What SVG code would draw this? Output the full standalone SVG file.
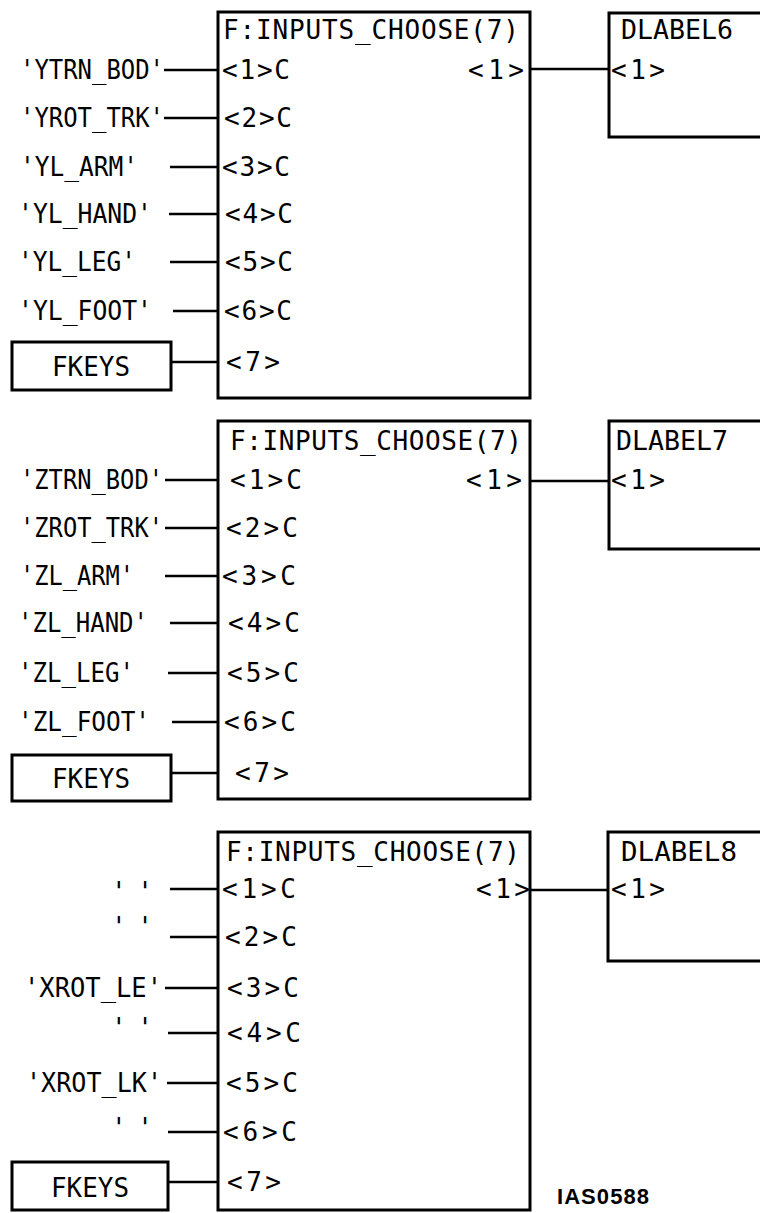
<svg xmlns="http://www.w3.org/2000/svg" width="760" height="1213" viewBox="0 0 760 1213">
<style>
.box{fill:none;stroke:#000;stroke-width:3}
.ln{stroke:#000;stroke-width:2.5;fill:none}
text{font-family:"DejaVu Sans Mono","Liberation Mono",monospace;font-size:26px;fill:#000}
.sq{lengthAdjust:spacingAndGlyphs}
.tag{font-family:"Liberation Sans","DejaVu Sans",sans-serif;font-weight:bold;font-size:22px}
</style>
<rect width="760" height="1213" fill="#fff"/>
<g id="connectors">
<path class="ln" d="M164 70H218M164 118H218M170 167H218M169 214H218M170 262H218M173 311H218M171 362H218M530 69H609"/>
<path class="ln" d="M165 480H218M165 528H218M165 576H218M170 623H218M168 673H218M172 722H218M171 773H218M530 481H609"/>
<path class="ln" d="M170 889H218M170 937H218M165 988H218M168 1033H218M167 1083H218M168 1132H218M168 1182H218M530 890H608"/>
</g>
<g id="chooseA">
<rect class="box" x="218" y="12" width="312" height="386"/>
<text x="223" y="39" textLength="296">F:INPUTS_CHOOSE(7)</text>
<text x="222" y="79" textLength="68">&lt;1&gt;C</text>
<text x="224" y="127" textLength="68">&lt;2&gt;C</text>
<text x="222" y="176" textLength="68">&lt;3&gt;C</text>
<text x="225" y="223" textLength="68">&lt;4&gt;C</text>
<text x="225" y="271" textLength="68">&lt;5&gt;C</text>
<text x="224" y="320" textLength="68">&lt;6&gt;C</text>
<text x="226" y="371" textLength="54">&lt;7&gt;</text>
<text x="468" y="79" textLength="56">&lt;1&gt;</text>
</g>
<g id="inputsA">
<text x="20" y="79" textLength="144" lengthAdjust="spacingAndGlyphs">'YTRN_BOD'</text>
<text x="20" y="127" textLength="144" lengthAdjust="spacingAndGlyphs">'YROT_TRK'</text>
<text x="20" y="176" textLength="118" lengthAdjust="spacingAndGlyphs">'YL_ARM'</text>
<text x="18" y="223" textLength="134" lengthAdjust="spacingAndGlyphs">'YL_HAND'</text>
<text x="18" y="271" textLength="118" lengthAdjust="spacingAndGlyphs">'YL_LEG'</text>
<text x="18" y="320" textLength="134" lengthAdjust="spacingAndGlyphs">'YL_FOOT'</text>
</g>
<g id="fkeysA">
<rect class="box" x="12" y="342" width="159" height="48"/>
<text x="52" y="376" textLength="78" lengthAdjust="spacingAndGlyphs">FKEYS</text>
</g>
<g id="dlabel6">
<rect class="box" x="609" y="13" width="200" height="124"/>
<text x="621" y="39" textLength="112" lengthAdjust="spacingAndGlyphs">DLABEL6</text>
<text x="611" y="79" textLength="54">&lt;1&gt;</text>
</g>
<g id="chooseB">
<rect class="box" x="218" y="421" width="312" height="378"/>
<text x="230" y="450" textLength="292">F:INPUTS_CHOOSE(7)</text>
<text x="230" y="489" textLength="72">&lt;1&gt;C</text>
<text x="226" y="537" textLength="72">&lt;2&gt;C</text>
<text x="222" y="585" textLength="74">&lt;3&gt;C</text>
<text x="228" y="632" textLength="72">&lt;4&gt;C</text>
<text x="227" y="682" textLength="72">&lt;5&gt;C</text>
<text x="224" y="731" textLength="72">&lt;6&gt;C</text>
<text x="235" y="782" textLength="54">&lt;7&gt;</text>
<text x="466" y="489" textLength="56">&lt;1&gt;</text>
</g>
<g id="inputsB">
<text x="20" y="489" textLength="143" lengthAdjust="spacingAndGlyphs">'ZTRN_BOD'</text>
<text x="20" y="537" textLength="143" lengthAdjust="spacingAndGlyphs">'ZROT_TRK'</text>
<text x="20" y="585" textLength="114" lengthAdjust="spacingAndGlyphs">'ZL_ARM'</text>
<text x="18" y="632" textLength="130" lengthAdjust="spacingAndGlyphs">'ZL_HAND'</text>
<text x="18" y="682" textLength="116" lengthAdjust="spacingAndGlyphs">'ZL_LEG'</text>
<text x="18" y="731" textLength="132" lengthAdjust="spacingAndGlyphs">'ZL_FOOT'</text>
</g>
<g id="fkeysB">
<rect class="box" x="12" y="755" width="159" height="46"/>
<text x="52" y="788" textLength="78" lengthAdjust="spacingAndGlyphs">FKEYS</text>
</g>
<g id="dlabel7">
<rect class="box" x="609" y="421" width="200" height="128"/>
<text x="616" y="450" textLength="112" lengthAdjust="spacingAndGlyphs">DLABEL7</text>
<text x="611" y="489" textLength="54">&lt;1&gt;</text>
</g>
<g id="chooseC">
<rect class="box" x="218" y="832" width="312" height="378"/>
<text x="226" y="861" textLength="294">F:INPUTS_CHOOSE(7)</text>
<text x="222" y="898" textLength="74">&lt;1&gt;C</text>
<text x="225" y="946" textLength="72">&lt;2&gt;C</text>
<text x="227" y="997" textLength="72">&lt;3&gt;C</text>
<text x="227" y="1042" textLength="74">&lt;4&gt;C</text>
<text x="226" y="1092" textLength="72">&lt;5&gt;C</text>
<text x="223" y="1141" textLength="74">&lt;6&gt;C</text>
<text x="227" y="1191" textLength="54">&lt;7&gt;</text>
<text x="476" y="898" textLength="54">&lt;1&gt;</text>
<text class="tag" x="557" y="1204" textLength="92">IAS0588</text>
</g>
<g id="inputsC">
<text x="111" y="901" textLength="42">' '</text>
<text x="111" y="936" textLength="42">' '</text>
<text x="24" y="997" textLength="138" lengthAdjust="spacingAndGlyphs">'XROT_LE'</text>
<text x="111" y="1037" textLength="42">' '</text>
<text x="26" y="1092" textLength="136" lengthAdjust="spacingAndGlyphs">'XROT_LK'</text>
<text x="111" y="1137" textLength="42">' '</text>
</g>
<g id="fkeysC">
<rect class="box" x="12" y="1162" width="156" height="48"/>
<text x="51" y="1197" textLength="78" lengthAdjust="spacingAndGlyphs">FKEYS</text>
</g>
<g id="dlabel8">
<rect class="box" x="608" y="832" width="200" height="129"/>
<text x="621" y="861" textLength="116" lengthAdjust="spacingAndGlyphs">DLABEL8</text>
<text x="611" y="898" textLength="54">&lt;1&gt;</text>
</g>
</svg>
